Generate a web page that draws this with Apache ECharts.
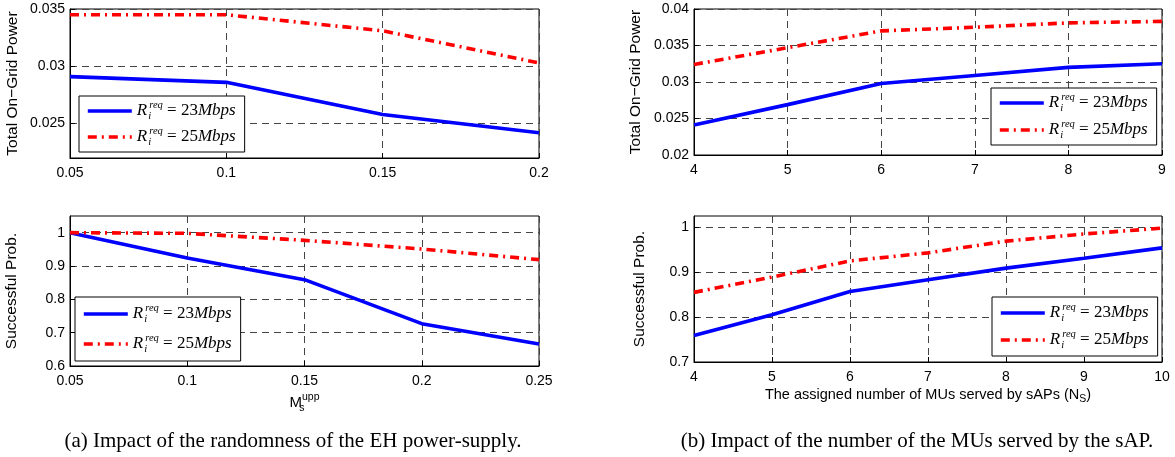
<!DOCTYPE html>
<html>
<head>
<meta charset="utf-8">
<script src="https://cdn.jsdelivr.net/npm/echarts@6/dist/echarts.min.js"></script>
<style>html,body{margin:0;padding:0;background:#fff}#c{width:1175px;height:457px}</style>
</head>
<body>
<div id="c"></div>
<script>
// ---- data ----
const muUpp = [0.05, 0.1, 0.15, 0.2];
const powerA23 = [0.0291, 0.0286, 0.0258, 0.0242];
const powerA25 = [0.0345, 0.0345, 0.0331, 0.0303];

const muUpp2 = [0.05, 0.1, 0.15, 0.2, 0.25];
const probA23 = [1.0, 0.924, 0.859, 0.727, 0.666];
const probA25 = [1.0, 0.998, 0.977, 0.951, 0.919];

const nsPower = [4, 5, 6, 7, 8, 9];
const powerB23 = [0.0241, 0.0269, 0.0298, 0.0309, 0.0320, 0.0325];
const powerB25 = [0.0324, 0.0347, 0.0370, 0.0375, 0.0381, 0.0383];

const nsProb = [4, 5, 6, 7, 8, 9, 10];
const probB23 = [0.759, 0.805, 0.857, 0.883, 0.909, 0.931, 0.954];
const probB25 = [0.855, 0.889, 0.925, 0.943, 0.969, 0.985, 0.998];

const yTicksPowA = [0.025, 0.03, 0.035];
const yTicksProbA = [0.6, 0.7, 0.8, 0.9, 1];
const yTicksPowB = [0.02, 0.025, 0.03, 0.035, 0.04];
const yTicksProbB = [0.7, 0.8, 0.9, 1];

const seriesNames = ['r23', 'r25'];
const legendValues = { r23: '23', r25: '25' };

// ---- styles ----
const SANS = 'Liberation Sans';
const SERIF = 'Liberation Serif';
const gridLine = { show: true, lineStyle: { color: '#444', width: 1, type: [7, 5] } };

function zip(xs, ys) { return xs.map((x, i) => [x, ys[i]]); }

function xAxis(gi, min, max, interval, name, nameGap) {
  return {
    type: 'value', gridIndex: gi, min: min, max: max, interval: interval,
    axisLine: { show: true, onZero: false, lineStyle: { color: '#000', width: 1 } },
    axisTick: { show: true, inside: true, length: 5, lineStyle: { color: '#000' } },
    axisLabel: { color: '#000', fontFamily: SANS, fontSize: 14, margin: 8 },
    splitLine: gridLine,
    name: name, nameLocation: 'middle', nameGap: nameGap,
    nameTextStyle: {
      color: '#000', fontFamily: SANS, fontSize: 14.5,
      rich: {
        M: { fontFamily: SANS, fontSize: 15, color: '#000', lineHeight: 22 },
        sp: { fontFamily: SANS, fontSize: 10.5, color: '#000', verticalAlign: 'top', lineHeight: 11 },
        sb: { fontFamily: SANS, fontSize: 10.5, color: '#000', verticalAlign: 'bottom', lineHeight: 8, width: 0 },
        t: { fontFamily: SANS, fontSize: 14.5, color: '#000', lineHeight: 20 },
        s: { fontFamily: SANS, fontSize: 10.5, color: '#000', verticalAlign: 'bottom', lineHeight: 10 }
      }
    }
  };
}
function yAxis(gi, min, max, ticks, name, nameGap) {
  return {
    type: 'value', gridIndex: gi, min: min, max: max,
    axisLine: { show: true, onZero: false, lineStyle: { color: '#000', width: 1 } },
    axisTick: { show: true, inside: true, length: 5, customValues: ticks, lineStyle: { color: '#000' } },
    axisLabel: { color: '#000', fontFamily: SANS, fontSize: 14, margin: 5, customValues: ticks },
    splitLine: gridLine,
    name: name, nameLocation: 'middle', nameGap: nameGap,
    nameTextStyle: { color: '#000', fontFamily: SANS, fontSize: 15.5 }
  };
}
function lineSeries(name, gi, xs, ys) {
  const red = name === 'r25';
  return {
    type: 'line', name: name, xAxisIndex: gi, yAxisIndex: gi,
    data: zip(xs, ys), symbol: 'none', z: 3,
    lineStyle: red ? { color: '#ff0000', width: 3.6, type: [9, 5, 2, 5], cap: 'butt' }
                   : { color: '#0000ff', width: 3.6, type: 'solid' },
    itemStyle: { color: red ? '#ff0000' : '#0000ff' }
  };
}
const legendRich = {
  R: { fontFamily: SERIF, fontStyle: 'italic', fontSize: 17, color: '#000', lineHeight: 22 },
  sb: { fontFamily: SERIF, fontStyle: 'italic', fontSize: 10.5, color: '#000', verticalAlign: 'bottom', lineHeight: 10, width: 0, padding: [0, 0, 0, 1] },
  sp: { fontFamily: SERIF, fontStyle: 'italic', fontSize: 10.5, color: '#000', verticalAlign: 'top', lineHeight: 10, padding: [0, 0, 0, 1] },
  n: { fontFamily: SERIF, fontSize: 17, color: '#000', lineHeight: 22 },
  it: { fontFamily: SERIF, fontStyle: 'italic', fontSize: 17, color: '#000', lineHeight: 22 }
};
function legend(left, top, gap, padV) {
  return {
    data: seriesNames, orient: 'vertical', left: left, top: top,
    backgroundColor: '#fff', borderColor: '#000', borderWidth: 1, borderRadius: 0,
    padding: [padV, 9, padV, 7], itemGap: gap, itemWidth: 44, itemHeight: 14,
    selectedMode: false,
    itemStyle: { opacity: 0 },
    lineStyle: { width: 3.6 },
    formatter: function (n) { return '{R|R}{sb|i}{sp|req}{n| = ' + legendValues[n] + '}{it|Mbps}'; },
    textStyle: { rich: legendRich }
  };
}

const grids = [
  { left: 70, top: 9, width: 469, height: 149 },
  { left: 70, top: 216, width: 469, height: 150 },
  { left: 694, top: 9, width: 468, height: 146 },
  { left: 694, top: 216, width: 468, height: 146 }
].map(g => Object.assign({ show: true, borderColor: '#000', borderWidth: 1, backgroundColor: '#fff' }, g));

const captionStyle = { fontFamily: SERIF, fontSize: 21, fontWeight: 'normal', color: '#000' };

const option = {
  animation: false,
  backgroundColor: '#fff',
  grid: grids,
  title: [
    { text: '(a) Impact of the randomness of the EH power-supply.', left: 288, top: 426, textAlign: 'center', textStyle: captionStyle },
    { text: '(b) Impact of the number of the MUs served by the sAP.', left: 912, top: 426, textAlign: 'center', textStyle: captionStyle }
  ],
  xAxis: [
    xAxis(0, 0.05, 0.2, 0.05, '', 20),
    xAxis(1, 0.05, 0.25, 0.05, '{M|M}{sb|s}{sp|upp}', 26),
    xAxis(2, 4, 9, 1, '', 20),
    xAxis(3, 4, 10, 1, '{t|The assigned number of MUs served by sAPs (N}{s|S}{t|)}', 23)
  ],
  yAxis: [
    yAxis(0, 0.022, 0.035, yTicksPowA, 'Total On\u2212Grid Power', 49),
    yAxis(1, 0.6, 1.05, yTicksProbA, 'Successful Prob.', 50),
    yAxis(2, 0.02, 0.04, yTicksPowB, 'Total On\u2212Grid Power', 50),
    yAxis(3, 0.7, 1.025, yTicksProbB, 'Successful Prob.', 46)
  ],
  legend: [legend(79, 96, 4, 4), legend(75, 297, 8, 6), legend(991, 88, 5, 4), legend(992, 297, 5, 5)],
  series: [
    lineSeries('r23', 0, muUpp, powerA23),
    lineSeries('r25', 0, muUpp, powerA25),
    lineSeries('r23', 1, muUpp2, probA23),
    lineSeries('r25', 1, muUpp2, probA25),
    lineSeries('r23', 2, nsPower, powerB23),
    lineSeries('r25', 2, nsPower, powerB25),
    lineSeries('r23', 3, nsProb, probB23),
    lineSeries('r25', 3, nsProb, probB25)
  ]
};
const chart = echarts.init(document.getElementById('c'), null, { renderer: 'canvas' });
chart.setOption(option);
</script>
</body>
</html>
